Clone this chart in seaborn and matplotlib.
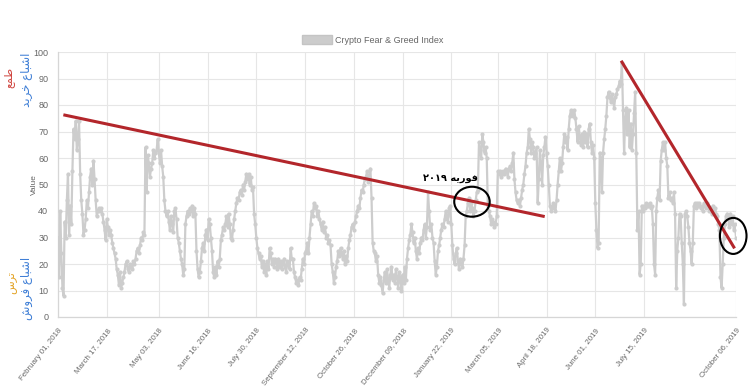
import numpy as np
import pandas as pd
import matplotlib
matplotlib.use("Agg")
import matplotlib.pyplot as plt
import matplotlib.dates as mdates
from matplotlib.patches import Ellipse, Patch
import seaborn as sns

# ---------------- data (daily Crypto Fear & Greed Index) -------------
start_date = "2018-02-01"
feb_2018 = [30, 15, 40, 24, 11, 8, 36, 30, 44, 54, 31, 42, 35, 55, 71, 67, 74, 63, 67, 74, 54, 44, 39, 31, 33, 37, 44, 41]
mar_2018 = [47, 53, 56, 50, 59, 52, 44, 38, 40, 41, 40, 41, 39, 36, 33, 29, 37, 34, 31, 33, 31, 28, 26, 24, 22, 18, 16, 12, 17, 11, 13]
apr_2018 = [15, 17, 20, 21, 18, 17, 20, 19, 18, 21, 20, 22, 25, 26, 24, 27, 30, 29, 32, 31, 64, 47, 61, 58, 53, 56, 58, 63, 60, 62]
may_2018 = [63, 67, 62, 58, 63, 57, 53, 44, 40, 38, 40, 36, 33, 38, 35, 32, 40, 41, 37, 30, 28, 25, 22, 20, 16, 18, 35, 38, 40, 39, 41]
jun_2018 = [40, 42, 38, 41, 39, 25, 18, 15, 17, 21, 26, 28, 25, 31, 33, 29, 37, 35, 30, 25, 17, 15, 19, 16, 21, 19, 22, 29, 31, 34]
jul_2018 = [33, 35, 38, 34, 39, 35, 30, 29, 33, 37, 40, 43, 45, 44, 47, 48, 46, 50, 48, 51, 54, 52, 54, 50, 53, 48, 49, 39, 35, 30, 26]
aug_2018 = [24, 22, 23, 19, 21, 17, 20, 16, 21, 18, 26, 24, 20, 22, 19, 22, 21, 18, 22, 19, 21, 18, 20, 22, 19, 17, 21, 20, 18, 26, 22]
sep_2018 = [22, 17, 15, 13, 14, 12, 15, 14, 18, 22, 20, 24, 25, 28, 24, 30, 35, 40, 38, 43, 41, 42, 38, 40, 37, 35, 33, 36, 32, 34]
oct_2018 = [30, 31, 28, 29, 27, 20, 17, 13, 15, 19, 21, 25, 23, 26, 24, 22, 25, 20, 23, 21, 26, 29, 31, 34, 35, 33, 36, 38, 40, 42, 41]
nov_2018 = [45, 48, 47, 50, 52, 53, 55, 51, 53, 56, 45, 28, 25, 24, 21, 23, 16, 13, 15, 12, 9, 14, 17, 13, 18, 14, 11, 16, 19, 14]
dec_2018 = [16, 13, 18, 15, 11, 17, 14, 10, 16, 13, 19, 14, 22, 26, 29, 31, 35, 32, 28, 30, 25, 22, 26, 24, 28, 30, 29, 33, 35, 30, 34]
jan_2019 = [47, 40, 33, 35, 30, 28, 21, 16, 19, 25, 27, 30, 33, 35, 34, 37, 40, 38, 36, 41, 42, 35, 27, 22, 20, 24, 26, 21, 18, 22, 20]
feb_2019 = [19, 22, 27, 38, 40, 43, 45, 40, 43, 41, 38, 40, 44, 47, 48, 66, 63, 60, 69, 66, 62, 64, 60, 42, 40, 38, 35, 37]
mar_2019 = [36, 34, 35, 38, 55, 54, 55, 53, 54, 55, 54, 56, 55, 53, 56, 57, 55, 58, 62, 52, 47, 44, 43, 44, 42, 45, 48, 50, 54, 57, 62]
apr_2019 = [64, 71, 67, 62, 66, 64, 60, 62, 64, 43, 52, 63, 58, 50, 61, 64, 68, 62, 57, 50, 42, 40, 41, 43, 42, 40, 44, 50, 55, 60]
may_2019 = [55, 58, 64, 69, 66, 68, 63, 71, 76, 78, 77, 76, 78, 75, 71, 66, 72, 68, 65, 69, 64, 70, 66, 69, 64, 71, 73, 66, 62, 65, 60]
jun_2019 = [43, 33, 26, 28, 62, 60, 47, 62, 67, 71, 76, 83, 85, 83, 81, 84, 82, 79, 83, 84, 86, 87, 89, 88, 96, 78, 62, 75, 79, 69]
jul_2019 = [78, 64, 73, 63, 69, 77, 85, 62, 33, 40, 16, 20, 42, 40, 42, 41, 43, 42, 42, 43, 41, 42, 35, 20, 16, 40, 45, 48, 44, 59, 63]
aug_2019 = [66, 63, 66, 60, 57, 45, 47, 44, 45, 43, 47, 39, 11, 25, 30, 39, 38, 28, 20, 5, 39, 40, 38, 34, 28, 25, 20, 28, 42, 43, 41]
sep_2019 = [43, 42, 43, 41, 42, 40, 43, 42, 41, 43, 42, 40, 41, 39, 42, 40, 41, 39, 38, 35, 33, 15, 11, 20, 30, 35, 38, 39, 37, 34]
oct_2019 = [39, 35, 38, 33, 35, 30]

tick_dates = ["2018-02-01", "2018-03-17", "2018-05-03", "2018-06-16", "2018-07-30",
              "2018-09-12", "2018-10-26", "2018-12-09", "2019-01-22", "2019-03-05",
              "2019-04-18", "2019-06-01", "2019-07-15", "2019-10-06"]
tick_labels = ["February 01, 2018", "March 17, 2018", "May 03, 2018", "June 16, 2018",
               "July 30, 2018", "September 12, 2018", "October 26, 2018", "December 09, 2018",
               "January 22, 2019", "March 05, 2019", "April 18, 2019", "June 01, 2019",
               "July 15, 2019", "October 06, 2019"]
y_ticks = [0, 10, 20, 30, 40, 50, 60, 70, 80, 90, 100]
series_name = "Crypto Fear & Greed Index"

# hand-drawn trend lines and circles
trend1_dates = ["2018-02-05 20:00", "2019-04-16 08:00"]
trend1_values = [76.3, 37.9]
trend2_dates = ["2019-06-24 08:00", "2019-10-04 17:00"]
trend2_values = [96.7, 25.9]
circle_dates = ["2019-02-09 16:00", "2019-10-03 12:00"]
circle_values = [43.5, 30.6]
circle_widths_days = [32, 24]
circle_heights = [11.3, 13.6]
note_text = "۲۰۱۹ ﻪﻳﺭﻮﻓ"          # فوریه ۲۰۱۹ (shaped, visual order)
note_date = "2019-01-21"
note_value = 52.4
greed_text = "ﻊﻤﻃ"                # طمع
overbought_text = "ﺪﻳﺮﺧ ﻉﺎﺒﺷﺍ"     # اشباع خرید
fear_text = "ﺱﺮﺗ"                 # ترس
oversold_text = "ﺵﻭﺮﻓ ﻉﺎﺒﺷﺍ"       # اشباع فروش

# ---------------- build frame ----------------
months = [feb_2018, mar_2018, apr_2018, may_2018, jun_2018, jul_2018, aug_2018, sep_2018,
          oct_2018, nov_2018, dec_2018, jan_2019, feb_2019, mar_2019, apr_2019, may_2019,
          jun_2019, jul_2019, aug_2019, sep_2019, oct_2019]
values = np.concatenate([np.array(m, dtype=float) for m in months])
dates = pd.date_range(start_date, periods=len(values), freq="D")
df = pd.DataFrame({"date": dates, "value": values})

# ---------------- style ----------------
sns.set_theme(style="whitegrid")
plt.rcParams["font.family"] = ["Liberation Sans", "DejaVu Sans"]

W, H = 750, 386
fig = plt.figure(figsize=(W / 100, H / 100), dpi=100)
fig.patch.set_facecolor("white")
left, right, top, bottom = 58, 736, 52, 317
ax = fig.add_axes([left / W, (H - bottom) / H, (right - left) / W, (bottom - top) / H])
ax.set_facecolor("white")

sns.lineplot(data=df, x="date", y="value", ax=ax, color="#cdcdcd", linewidth=1.6,
             marker="o", markersize=3.0, markeredgewidth=0, legend=False, zorder=3)

ax.set_xlim(pd.Timestamp(start_date), dates[-1])
ax.set_ylim(0, 100)
ax.set_xticks(pd.to_datetime(tick_dates))
ax.set_xticklabels(tick_labels, rotation=52, ha="right", rotation_mode="anchor",
                   fontsize=5.7, color="#6a6a6a")
ax.set_yticks(y_ticks)
ax.set_yticklabels([str(v) for v in y_ticks], fontsize=6.5, color="#666666")
ax.tick_params(axis="both", which="both", length=5, width=0.8, color="#e3e3e3", pad=2)
ax.grid(True, color="#e6e6e6", linewidth=0.8)
for s in ["top", "right"]:
    ax.spines[s].set_visible(False)
for s in ["left", "bottom"]:
    ax.spines[s].set_color("#d6d6d6")
    ax.spines[s].set_linewidth(0.9)
ax.set_xlabel("")
ax.set_ylabel("Value", fontsize=6, color="#666666")
ax.yaxis.set_label_coords(-0.03, 0.5)

# legend (Chart.js style box)
fig.legend(handles=[Patch(facecolor="#cccccc", edgecolor="#c4c4c4")], labels=[series_name],
           loc="center", bbox_to_anchor=(0.497, 1 - 40 / H), frameon=False, fontsize=6.5,
           handlelength=3.3, handleheight=1.1, handletextpad=0.4, labelcolor="#666666")

# trend lines
ax.plot(pd.to_datetime(trend1_dates), trend1_values, color="#b3262b", linewidth=2.2,
        solid_capstyle="butt", zorder=5)
ax.plot(pd.to_datetime(trend2_dates), trend2_values, color="#b3262b", linewidth=2.2,
        solid_capstyle="butt", zorder=5, clip_on=False)

# circles
for cd, cv, cw, ch in zip(circle_dates, circle_values, circle_widths_days, circle_heights):
    e = Ellipse((mdates.date2num(pd.Timestamp(cd)), cv), width=cw, height=ch,
                fill=False, edgecolor="black", linewidth=1.5, zorder=6, clip_on=False)
    ax.add_patch(e)

ax.text(pd.Timestamp(note_date), note_value, note_text, fontsize=7, fontweight="bold",
        color="black", ha="center", va="center", family=["DejaVu Sans"], zorder=7)

# left-side Persian labels
fig.text(9 / W, 1 - 77 / H, greed_text, rotation=90, color="#d0453f", fontsize=8,
         ha="center", va="center", family=["DejaVu Sans"])
fig.text(27 / W, 1 - 80 / H, overbought_text, rotation=90, color="#3f7fd6", fontsize=8.5,
         ha="center", va="center", family=["DejaVu Sans"])
fig.text(12 / W, 1 - 283 / H, fear_text, rotation=90, color="#e3a325", fontsize=8,
         ha="center", va="center", family=["DejaVu Sans"])
fig.text(27 / W, 1 - 288 / H, oversold_text, rotation=90, color="#3f7fd6", fontsize=8.5,
         ha="center", va="center", family=["DejaVu Sans"])

fig.savefig("out.png", dpi=100, facecolor="white")
